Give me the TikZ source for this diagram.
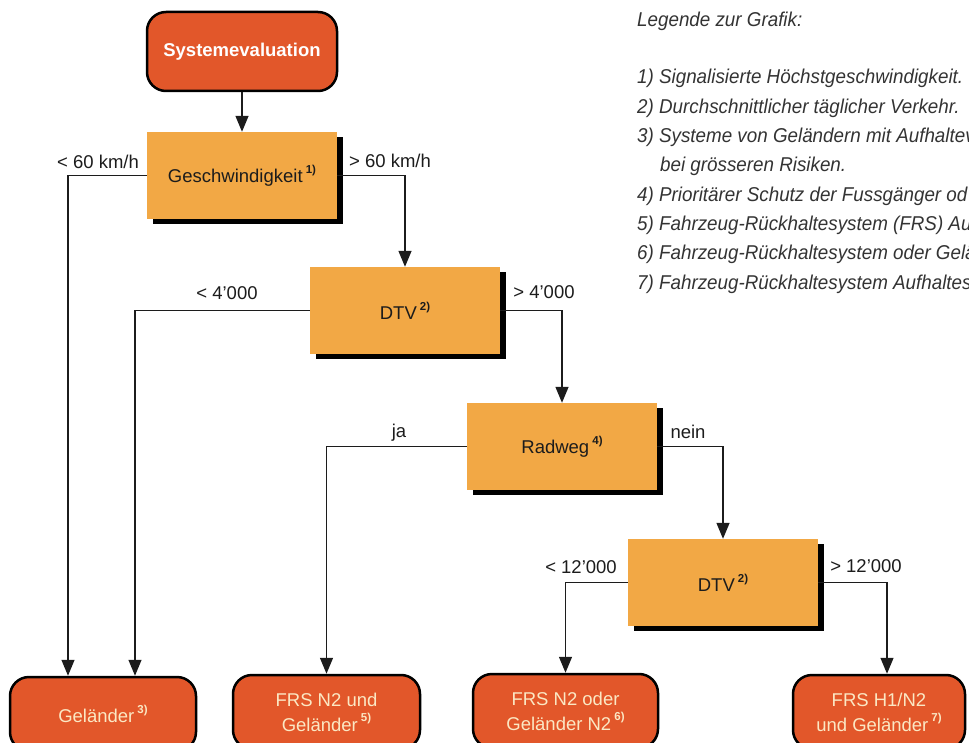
\documentclass[tikz,border=0pt]{standalone}
\usepackage{fontspec}
\setmainfont{Liberation Sans}
\newfontfamily\legfont[FakeStretch=0.94]{Liberation Sans}
\usetikzlibrary{arrows.meta,shadows}

\definecolor{redbox}{HTML}{E2572A}
\definecolor{orbox}{HTML}{F2A845}
\definecolor{cream}{HTML}{FBE8C4}
\definecolor{ink}{HTML}{1C1C1C}
\definecolor{legink}{HTML}{333333}

\newcommand{\supnote}[1]{\,\raisebox{0.5em}{\fontsize{11.5}{11.5}\selectfont\bfseries #1)}}

\begin{document}
\begin{tikzpicture}[x=1pt,y=-1pt,
  font=\fontsize{18.5}{25}\selectfont,
  decision/.style={fill=orbox, minimum width=190pt, minimum height=87pt,
    text=ink, inner sep=0pt,
    drop shadow={shadow xshift=5.5pt, shadow yshift=-5pt, fill=black, opacity=1}},
  terminal/.style={fill=redbox, draw=black, line width=2.5pt, rounded corners=19pt,
    text=cream, align=center, inner sep=0pt},
  conn/.style={draw=ink, line width=1.4pt},
  arr/.style={conn, -{Triangle[width=13pt,length=16pt]}},
  lbl/.style={text=ink, inner sep=0pt},
  leg/.style={anchor=base west, inner sep=0pt, text=legink,
    font=\legfont\itshape\fontsize{20}{24}\selectfont}]

\useasboundingbox (0,0) rectangle (969,743);
\clip (0,0) rectangle (969,743);

% nodes
\node[terminal, minimum width=190pt, minimum height=79pt, text=white,
  font=\bfseries\fontsize{18.5}{22}\selectfont] (sys) at (242,51.5) {Systemevaluation};
\node[decision] (g)  at (242,175.5) {Geschwindigkeit\supnote{1}};
\node[decision] (d1) at (405,310.5) {DTV\supnote{2}};
\node[decision] (r)  at (562,446.5) {Radweg\supnote{4}};
\node[decision] (d2) at (723,582.5) {DTV\supnote{2}};

\node[terminal, minimum width=186pt, minimum height=74pt] (gel) at (103,714) {Geländer\supnote{3}};
\node[terminal, minimum width=187pt, minimum height=74pt] (f1) at (326.5,712) {FRS N2 und\\Geländer\supnote{5}};
\node[terminal, minimum width=185pt, minimum height=74pt] (f2) at (565.5,711) {FRS N2 oder\\Geländer N2\supnote{6}};
\node[terminal, minimum width=172pt, minimum height=74pt] (f3) at (879,712) {FRS H1/N2\\und Geländer\supnote{7}};

% connectors
\draw[arr] (sys) -- (g);
\draw[arr] (g.west) -| ([xshift=-35pt]gel.north);
\draw[arr] (g.east) -| (d1.north);
\draw[arr] (d1.west) -| ([xshift=32pt]gel.north);
\draw[arr] (d1.east) -| (r.north);
\draw[arr] (r.west) -| (f1.north);
\draw[arr] (r.east) -| (d2.north);
\draw[arr] (d2.west) -| (f2.north);
\draw[arr] (d2.east) -| ([xshift=8pt]f3.north);

% branch labels
\node[lbl] (l1) at (98,162) {< 60 km/h};
\node[lbl] (l2) at (390,161) {> 60 km/h};
\node[lbl] (l3) at (227,293) {< 4'000};
\node[lbl] (l4) at (544,292) {> 4'000};
\node[lbl] (l5) at (399,433) {ja};
\node[lbl] (l6) at (688,432) {nein};
\node[lbl] (l7) at (581,567) {< 12'000};
\node[lbl] (l8) at (866,566) {> 12'000};

% legend (cut at the right edge, as in the reference)
\node[leg] (lg0) at (637,27) {Legende zur Grafik:};
\node[leg] (lg1) at (637,84) {1) Signalisierte Höchstgeschwindigkeit.};
\node[leg] (lg2) at (637,113.3) {2) Durchschnittlicher täglicher Verkehr.};
\node[leg] (lg3) at (637,142.6) {3) Systeme von Geländern mit Aufhaltev};
\node[leg] (lg3b) at (660,171.9) {bei grösseren Risiken.};
\node[leg] (lg4) at (637,201.2) {4) Prioritärer Schutz der Fussgänger od};
\node[leg] (lg5) at (637,230.5) {5) Fahrzeug-Rückhaltesystem (FRS) Auf};
\node[leg] (lg6) at (637,259.8) {6) Fahrzeug-Rückhaltesystem oder Gelä};
\node[leg] (lg7) at (637,289.1) {7) Fahrzeug-Rückhaltesystem Aufhaltes};
\end{tikzpicture}
\end{document}
